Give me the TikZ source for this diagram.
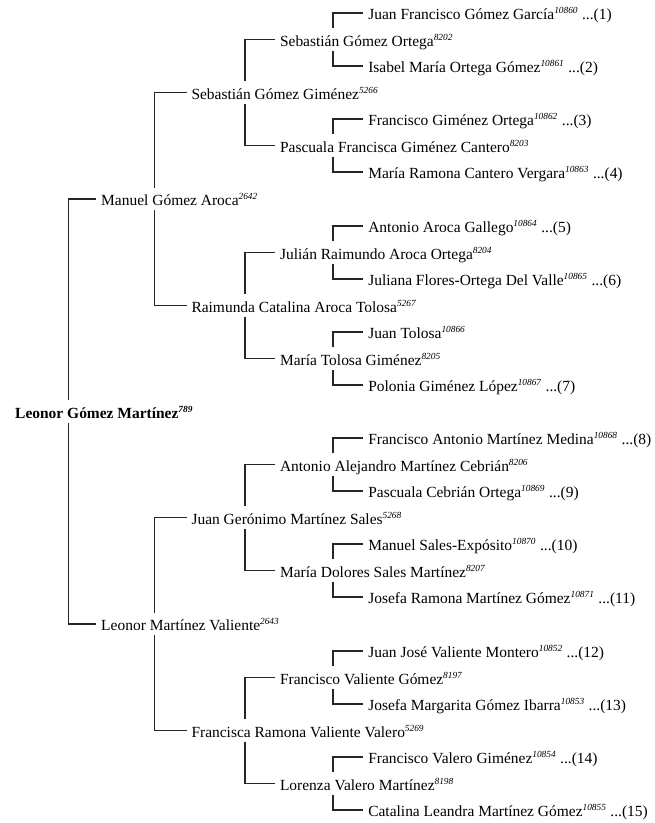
\documentclass[tikz,border=0pt]{standalone}
\usepackage{fontspec}
\setmainfont{Liberation Serif}
\newcommand{\idn}[1]{\textsuperscript{\fontsize{7}{8}\selectfont\itshape #1}}

\begin{document}
\begin{tikzpicture}[x=0.75pt, y=-0.75pt, grow'=right,
    every node/.style = {anchor=west, font=\fontsize{11.6}{14}\selectfont,
      text height=10pt, text depth=0pt, inner xsep=3.5pt, inner ysep=3.25pt,
      execute at begin node={\hbox to 0pt\bgroup}, execute at end node={\hss\egroup}},
    edge from parent/.style = {draw, line width=1.3pt, black!85},
    paternal/.style = {edge from parent path={([xshift=43.6pt]\tikzparentnode.north west) |- (\tikzchildnode.west)}},
    maternal/.style = {edge from parent path={([xshift=43.6pt]\tikzparentnode.south west) |- (\tikzchildnode.west)}},
    level 1/.style = {level distance=60.8pt, sibling distance=318.75pt},
    level 2/.style = {level distance=64pt, sibling distance=159.75pt},
    level 3/.style = {level distance=62.7pt, sibling distance=79.5pt},
    level 4/.style = {level distance=62.5pt, sibling distance=39.75pt}]
  \useasboundingbox (0,0) rectangle (654,823);
  \node (a1) at (10.3,411.5) {\textbf{Leonor Gómez Martínez\idn{789}}}
    child[paternal] { node (a2) {Manuel Gómez Aroca\idn{2642}}
      child[paternal] { node (a4) {Sebastián Gómez Giménez\idn{5266}}
        child[paternal] { node (a8) {Sebastián Gómez Ortega\idn{8202}}
          child[paternal] { node (a16) {Juan Francisco Gómez García\idn{10860} ...(1)}}
          child[maternal] { node (a17) {Isabel María Ortega Gómez\idn{10861} ...(2)}}}
        child[maternal] { node (a9) {Pascuala Francisca Giménez Cantero\idn{8203}}
          child[paternal] { node (a18) {Francisco Giménez Ortega\idn{10862} ...(3)}}
          child[maternal] { node (a19) {María Ramona Cantero Vergara\idn{10863} ...(4)}}}}
      child[maternal] { node (a5) {Raimunda Catalina Aroca Tolosa\idn{5267}}
        child[paternal] { node (a10) {Julián Raimundo Aroca Ortega\idn{8204}}
          child[paternal] { node (a20) {Antonio Aroca Gallego\idn{10864} ...(5)}}
          child[maternal] { node (a21) {Juliana Flores-Ortega Del Valle\idn{10865} ...(6)}}}
        child[maternal] { node (a11) {María Tolosa Giménez\idn{8205}}
          child[paternal] { node (a22) {Juan Tolosa\idn{10866}}}
          child[maternal] { node (a23) {Polonia Giménez López\idn{10867} ...(7)}}}}}
    child[maternal] { node (a3) {Leonor Martínez Valiente\idn{2643}}
      child[paternal] { node (a6) {Juan Gerónimo Martínez Sales\idn{5268}}
        child[paternal] { node (a12) {Antonio Alejandro Martínez Cebrián\idn{8206}}
          child[paternal] { node (a24) {Francisco Antonio Martínez Medina\idn{10868} ...(8)}}
          child[maternal] { node (a25) {Pascuala Cebrián Ortega\idn{10869} ...(9)}}}
        child[maternal] { node (a13) {María Dolores Sales Martínez\idn{8207}}
          child[paternal] { node (a26) {Manuel Sales-Expósito\idn{10870} ...(10)}}
          child[maternal] { node (a27) {Josefa Ramona Martínez Gómez\idn{10871} ...(11)}}}}
      child[maternal] { node (a7) {Francisca Ramona Valiente Valero\idn{5269}}
        child[paternal] { node (a14) {Francisco Valiente Gómez\idn{8197}}
          child[paternal] { node (a28) {Juan José Valiente Montero\idn{10852} ...(12)}}
          child[maternal] { node (a29) {Josefa Margarita Gómez Ibarra\idn{10853} ...(13)}}}
        child[maternal] { node (a15) {Lorenza Valero Martínez\idn{8198}}
          child[paternal] { node (a30) {Francisco Valero Giménez\idn{10854} ...(14)}}
          child[maternal] { node (a31) {Catalina Leandra Martínez Gómez\idn{10855} ...(15)}}}}};
\end{tikzpicture}
\end{document}
